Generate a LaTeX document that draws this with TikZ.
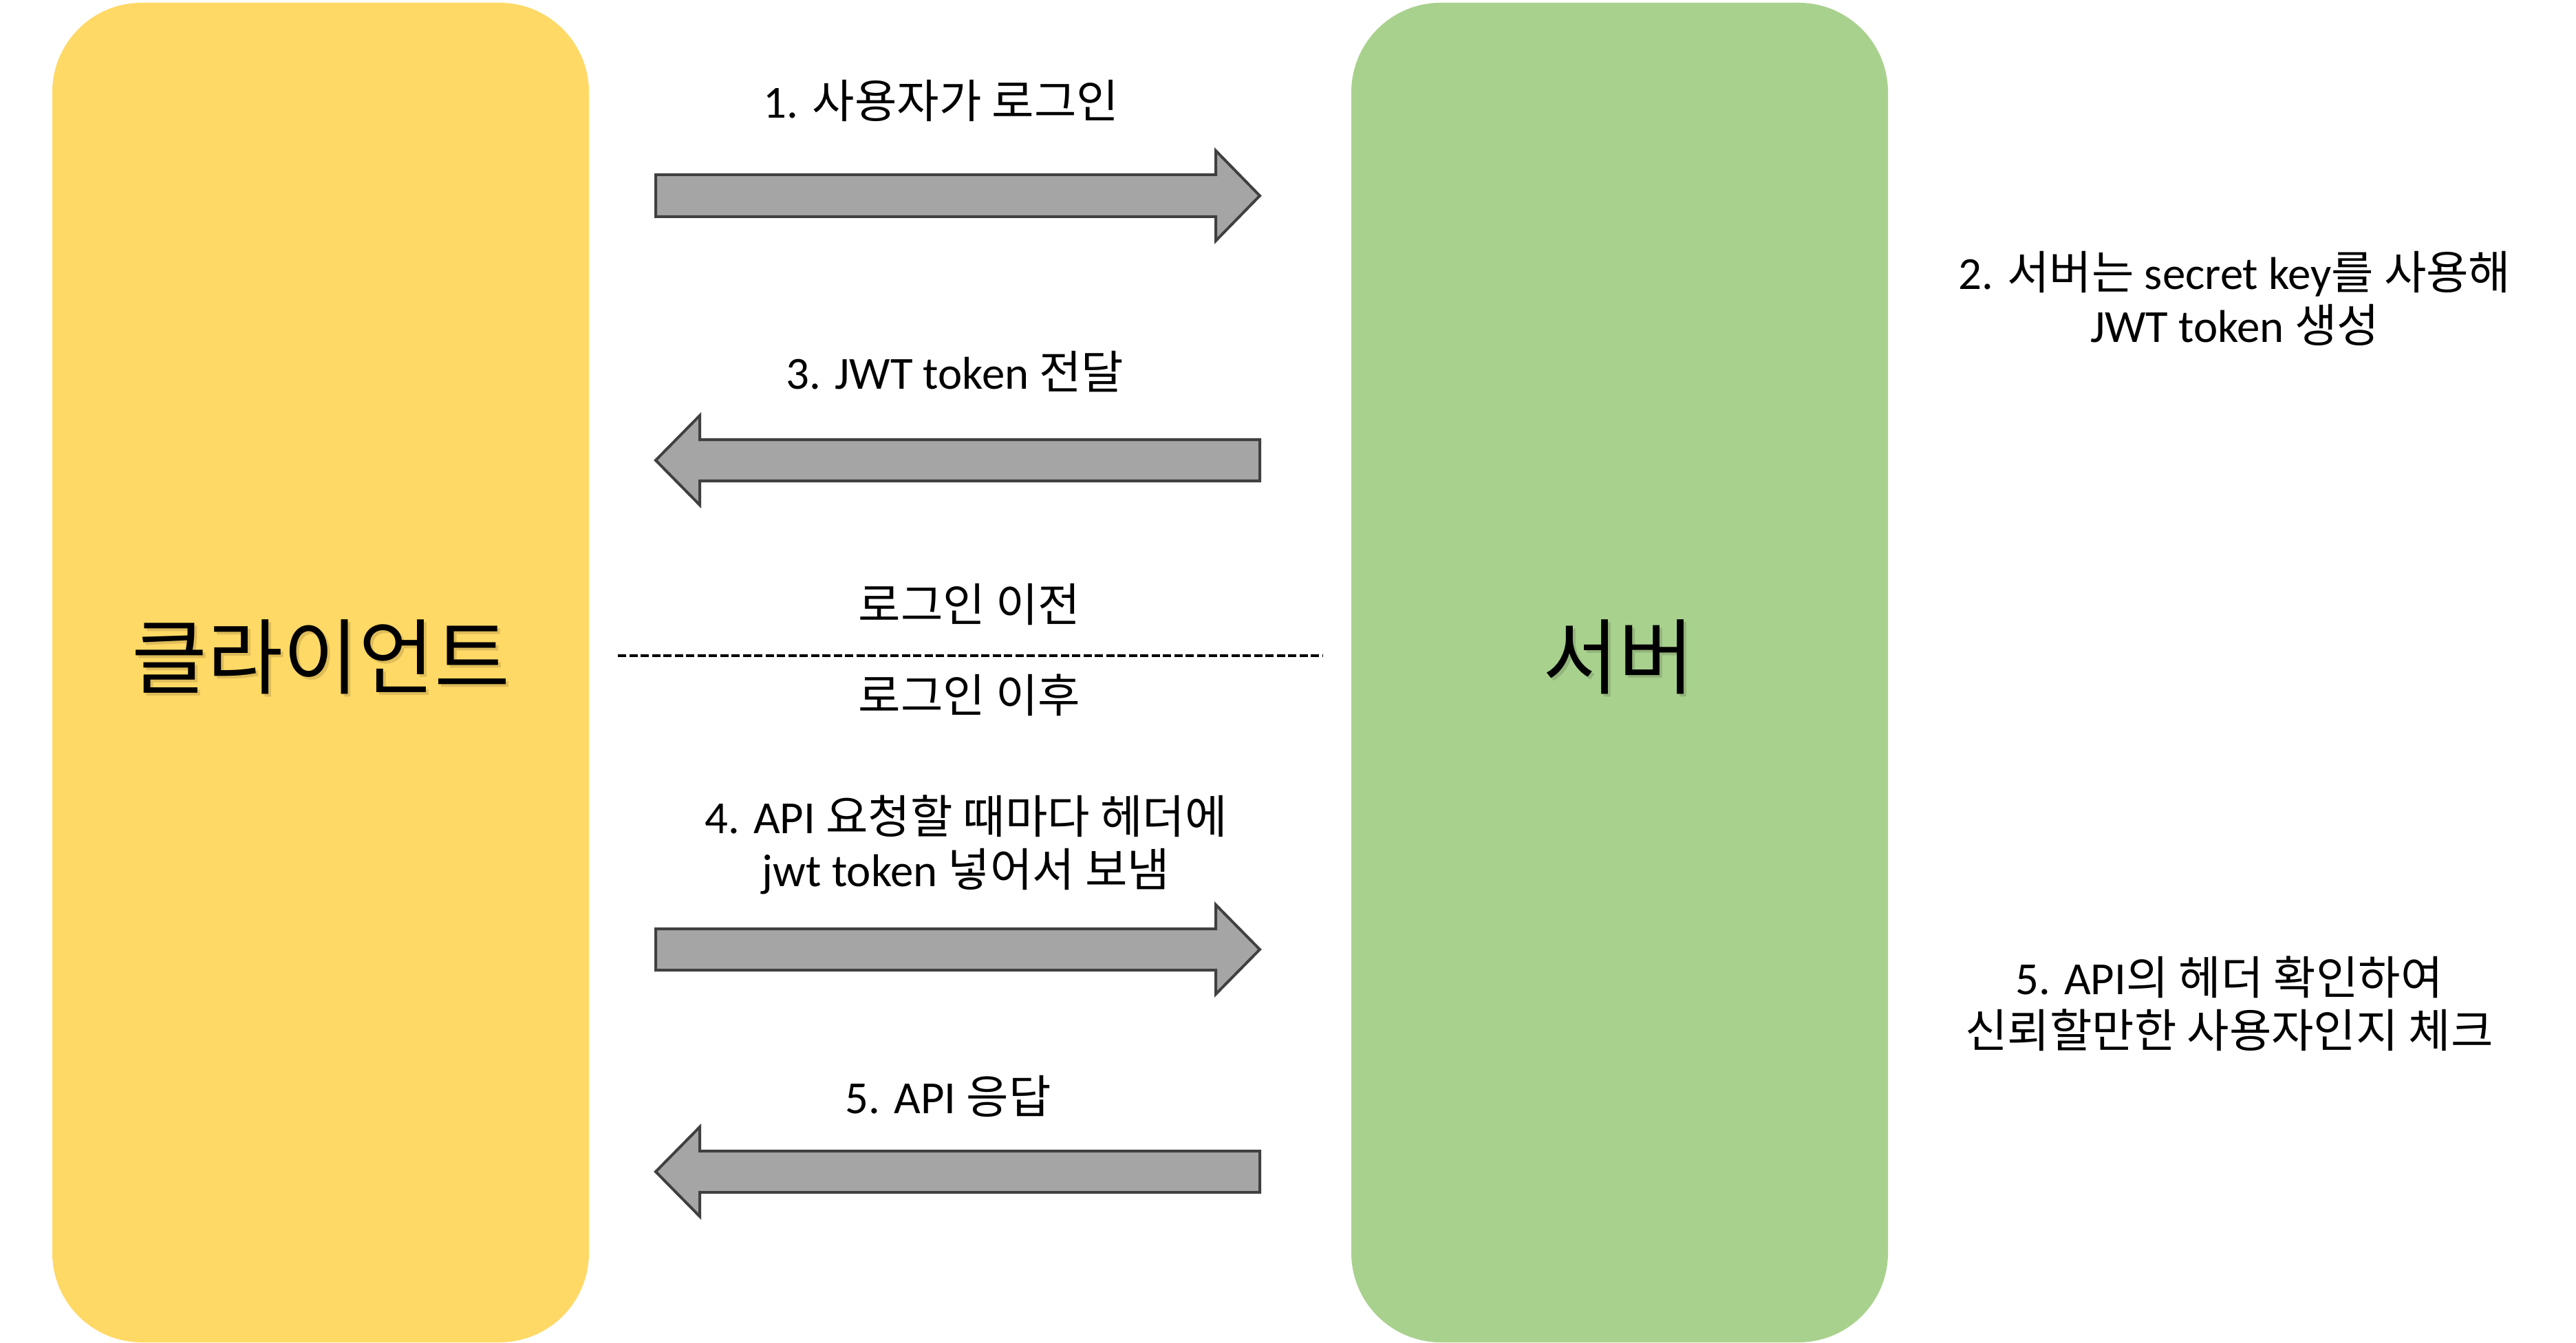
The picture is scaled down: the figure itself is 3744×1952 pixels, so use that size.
\documentclass[tikz,border=0pt]{standalone}
\usepackage{fontspec}
\setmainfont{Carlito}
\newfontfamily\krf{Noto Sans CJK KR}
\newcommand\K[1]{{\krf #1}}
\definecolor{clientfill}{HTML}{FFD966}
\definecolor{serverfill}{HTML}{A9D18E}
\definecolor{arrowfill}{HTML}{A5A5A5}
\definecolor{arrowline}{HTML}{404040}
\begin{document}
\begin{tikzpicture}[x=0.01cm,y=-0.01cm,
  lbl/.style={font=\fontsize{19}{21.9}\selectfont, align=center, inner sep=0pt},
  biglbl/.style={font=\fontsize{34}{40}\selectfont, inner sep=0pt},
  shadowlbl/.style={biglbl, text=black, opacity=0.13},
  blockarrow/.style={fill=arrowfill, draw=arrowline, line width=0.4mm, miter limit=10},
  box/.style={rounded corners=1.3cm},
  divider/.style={line width=0.4mm, dash pattern=on 1.2mm off 0.45mm}]
\useasboundingbox (0,0) rectangle (3744,1952);
% boxes
\fill[clientfill, box] (76,4) rectangle (856,1951);
\fill[serverfill, box] (1964,4) rectangle (2744,1951);
% big labels
\node[shadowlbl] at (470,959) {\K{클라이언트}};
\node[biglbl] (client) at (466,955) {\K{클라이언트}};
\node[shadowlbl] at (2356,959) {\K{서버}};
\node[biglbl] (server) at (2352,955) {\K{서버}};
% arrow 1 (right)
\draw[blockarrow] (953,254) -- (1767,254) -- (1767,219) -- (1831,284.5) -- (1767,350) -- (1767,315) -- (953,315) -- cycle;
% arrow 3 (left)
\draw[blockarrow] (1831,639) -- (1017,639) -- (1017,604) -- (953,669) -- (1017,734) -- (1017,699) -- (1831,699) -- cycle;
% arrow 4 (right)
\draw[blockarrow] (953,1350) -- (1767,1350) -- (1767,1315) -- (1831,1380) -- (1767,1445) -- (1767,1410) -- (953,1410) -- cycle;
% arrow 5 (left)
\draw[blockarrow] (1831,1673) -- (1017,1673) -- (1017,1638) -- (953,1703) -- (1017,1768) -- (1017,1733) -- (1831,1733) -- cycle;
% labels
\node[lbl] (l1) at (1368,146) {1. \K{사용자가 로그인}};
\node[lbl] (l2) at (3248,434) {2. \K{서버는} secret key\K{를 사용해}\\JWT token \K{생성}};
\node[lbl] (l3) at (1388,540) {3. JWT token \K{전달}};
\node[lbl] (before) at (1409,879) {\K{로그인 이전}};
\coordinate (dl) at (898,953);
\coordinate (dr) at (1922,953);
\draw[divider] (dl) -- (dr);
\node[lbl] (after) at (1409,1010) {\K{로그인 이후}};
\node[lbl] (l4) at (1404,1228) {4. API \K{요청할 때마다 헤더에}\\jwt token \K{넣어서 보냄}};
\node[lbl] (l5) at (1378,1593) {5. API \K{응답}};
\node[lbl] (l5b) at (3240,1459) {5. API\K{의 헤더 확인하여}\\\K{신뢰할만한 사용자인지 체크}};
\end{tikzpicture}
\end{document}
